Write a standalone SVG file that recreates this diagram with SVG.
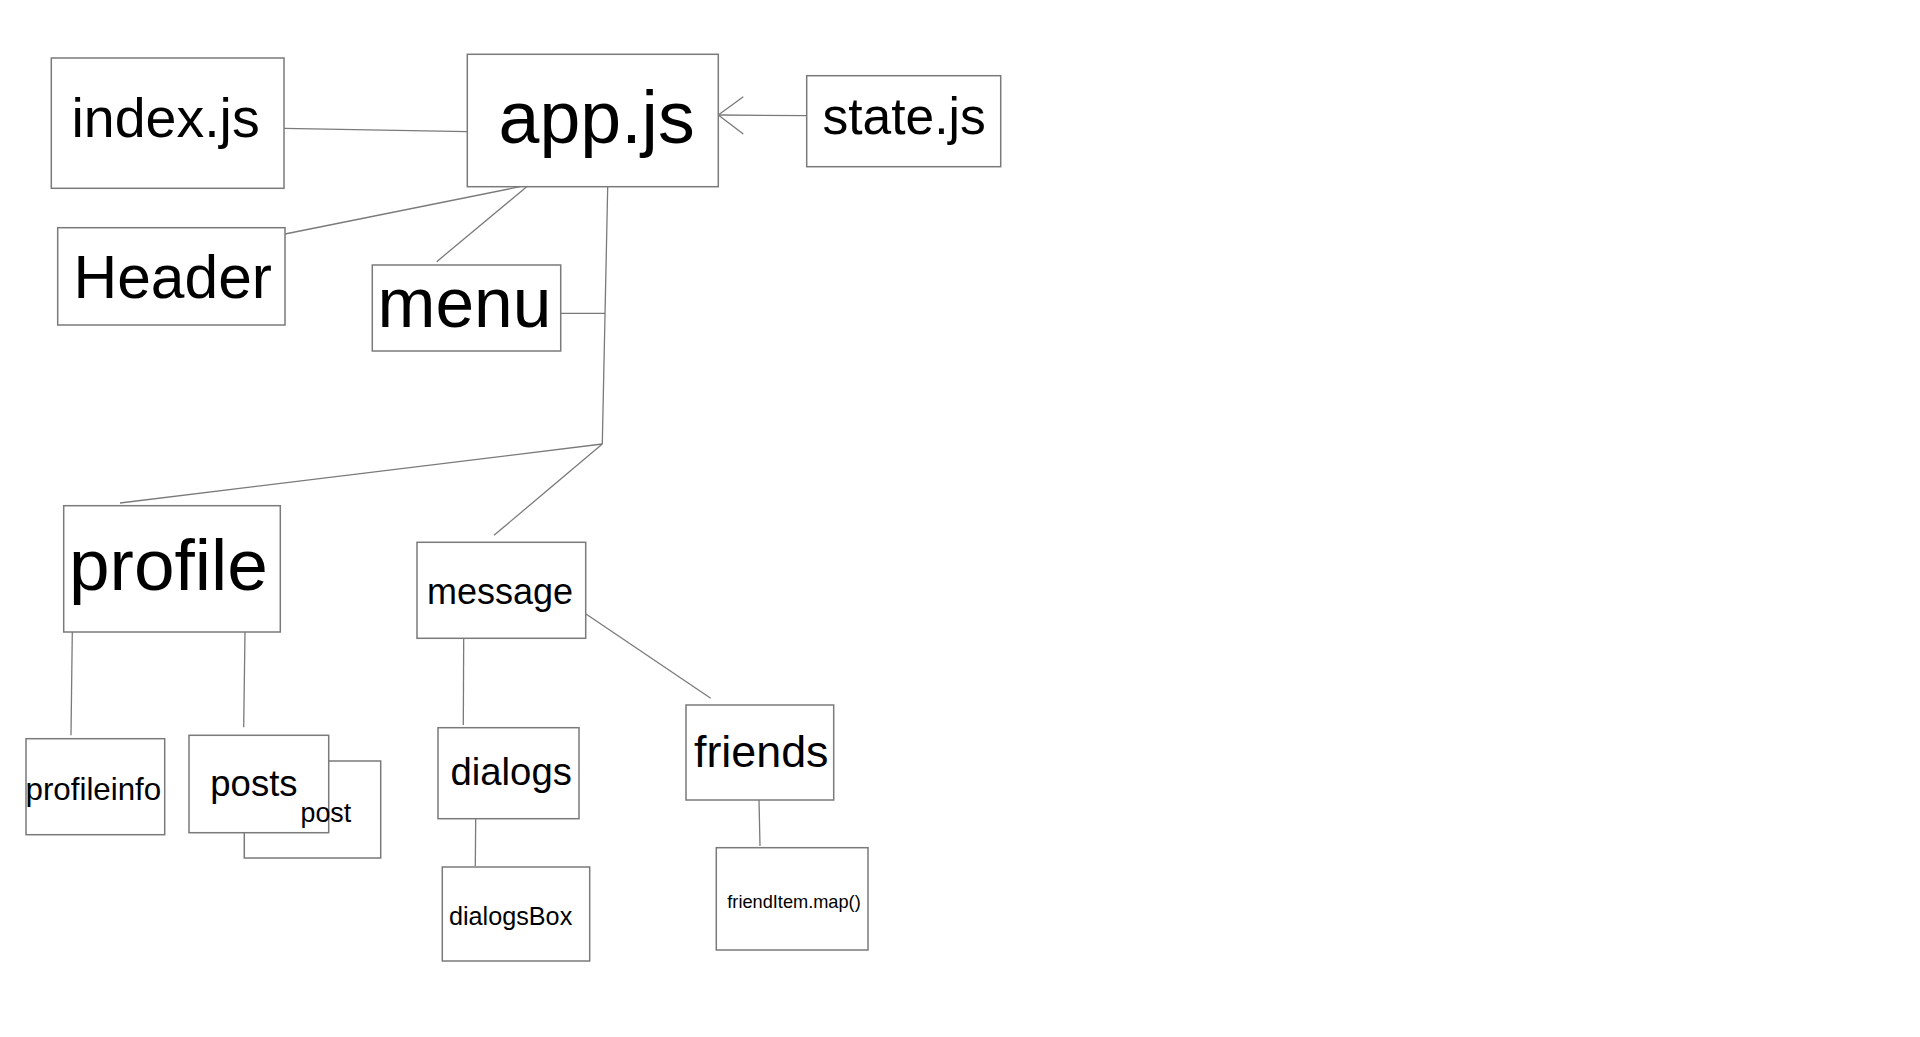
<svg xmlns="http://www.w3.org/2000/svg" width="1920" height="1037" viewBox="0 0 1920 1037">
<style>
.box{fill:#ffffff;stroke:#7a7a7a;stroke-width:1.5}
.ln{fill:none;stroke:#7a7a7a;stroke-width:1.3}
text{font-family:"Liberation Sans",Arial,sans-serif;fill:#000000}
</style>
<rect x="0" y="0" width="1920" height="1037" fill="#ffffff"/>
<g id="connectors">
<line class="ln" x1="284" y1="128.3" x2="467.3" y2="131.7"/>
<line class="ln" x1="285" y1="234" x2="520" y2="186.7"/>
<line class="ln" x1="436.7" y1="261.7" x2="526.7" y2="186.7"/>
<line class="ln" x1="607.7" y1="186.7" x2="602.3" y2="444"/>
<line class="ln" x1="560.7" y1="313.3" x2="605" y2="313.3"/>
<line class="ln" x1="602.3" y1="444" x2="120" y2="503"/>
<line class="ln" x1="602.3" y1="444" x2="494" y2="535.3"/>
<line class="ln" x1="807.3" y1="115.7" x2="718.3" y2="115"/>
<polyline class="ln" points="743.3,96.7 718.3,115 743.3,134"/>
<line class="ln" x1="72.3" y1="632" x2="71" y2="735.3"/>
<line class="ln" x1="245" y1="632" x2="243.7" y2="727.3"/>
<line class="ln" x1="463.7" y1="638.3" x2="463.3" y2="725"/>
<line class="ln" x1="586" y1="614" x2="710.7" y2="698.3"/>
<line class="ln" x1="475.7" y1="818.7" x2="475.3" y2="866"/>
<line class="ln" x1="759" y1="800" x2="760" y2="846"/>
</g>
<g id="index"><rect class="box" x="51.3" y="58" width="232.7" height="130.3"/><text x="71.5" y="137" font-size="55.5">index.js</text></g>
<g id="app"><rect class="box" x="467.3" y="54.3" width="251" height="132.4"/><text x="498.5" y="143.3" font-size="73.5">app.js</text></g>
<g id="state"><rect class="box" x="806.7" y="75.7" width="194" height="91"/><text x="822.5" y="134" font-size="51.5">state.js</text></g>
<g id="header"><rect class="box" x="57.7" y="227.7" width="227.3" height="97.3"/><text x="73.5" y="298.3" font-size="60.5">Header</text></g>
<g id="menu"><rect class="box" x="372.3" y="265" width="188.4" height="86"/><text x="377.5" y="327.3" font-size="69.5">menu</text></g>
<g id="profile"><rect class="box" x="63.7" y="505.7" width="216.6" height="126.3"/><text x="69" y="590" font-size="73">profile</text></g>
<g id="message"><rect class="box" x="417" y="542.3" width="168.7" height="96"/><text x="427" y="604" font-size="36">message</text></g>
<g id="profileinfo"><rect class="box" x="26" y="738.7" width="138.7" height="96"/><text x="25.5" y="800" font-size="31.3">profileinfo</text></g>
<g id="post"><rect class="box" x="244.3" y="761" width="136.4" height="97"/></g>
<g id="posts"><rect class="box" x="189" y="735.3" width="139.7" height="97.4"/><text x="210.3" y="796" font-size="36.5">posts</text></g>
<g id="post-label"><text x="300.5" y="821.5" font-size="26.8">post</text></g>
<g id="dialogs"><rect class="box" x="438" y="727.7" width="141" height="91"/><text x="450.5" y="785" font-size="38.3">dialogs</text></g>
<g id="dialogsBox"><rect class="box" x="442.3" y="867" width="147.4" height="94"/><text x="449" y="925" font-size="25.2">dialogsBox</text></g>
<g id="friends"><rect class="box" x="686" y="705" width="147.7" height="95"/><text x="694" y="767.3" font-size="44.8">friends</text></g>
<g id="friendItem"><rect class="box" x="716.3" y="847.7" width="151.7" height="102.3"/><text x="727.3" y="908.3" font-size="18.2">friendItem.map()</text></g>
</svg>
